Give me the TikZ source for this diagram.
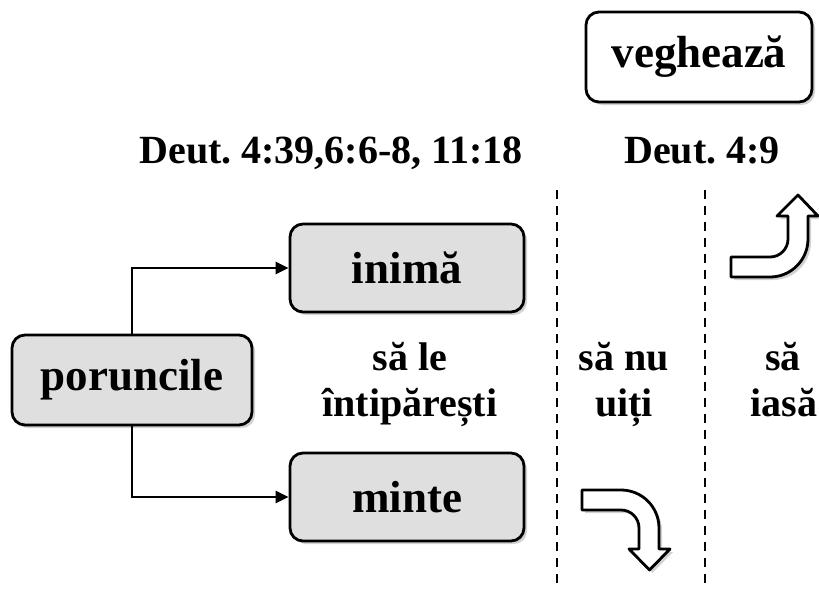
\documentclass[tikz,border=0pt]{standalone}
\usepackage{fontspec}
\setmainfont{Liberation Serif}
\usetikzlibrary{shadows,arrows.meta}
\frenchspacing
\tikzset{
  boxnode/.style={draw=black, line width=2.8pt, rounded corners=13pt, fill=#1,
    minimum width=234pt, minimum height=88pt, inner sep=0pt,
    font=\fontsize{45}{50}\selectfont\bfseries,
    drop shadow={opacity=0.35, shadow xshift=3pt, shadow yshift=-3pt}},
  lbl/.style={font=\fontsize{40}{46}\selectfont\bfseries, inner sep=0pt, anchor=base},
  sep/.style={line width=2.8pt, dash pattern=on 9pt off 7pt},
  conn/.style={line width=2.6pt, -{Triangle[length=13pt,width=12pt]}},
  bent/.style={draw=black, line width=2.8pt, fill=white, line join=round,
    drop shadow={opacity=0.35, shadow xshift=3pt, shadow yshift=-3pt}}
}
\begin{document}
\begin{tikzpicture}[x=1pt,y=-1pt]
\useasboundingbox (0,0) rectangle (819,589);
\fill[white] (0,0) rectangle (819,589);
% boxes
\node[boxnode=white, minimum width=226pt, minimum height=90pt] (veg) at (699,57) {veghează};
\node[boxnode=gray!25, minimum width=240pt, minimum height=90pt] (por) at (132,380) {poruncile};
\node[boxnode=gray!25] (inima) at (407,268) {inimă};
\node[boxnode=gray!25] (minte) at (407,497) {minte};
% headers
\node[lbl] (d1) at (331,163) {Deut. 4:39,6:6-8, 11:18};
\node[lbl] (d2) at (702,163) {Deut. 4:9};
% middle texts
\node[lbl] (t1a) at (410,370) {să le};
\node[lbl] (t1b) at (410,416) {întipărești};
\node[lbl] (t2a) at (624,370) {să nu};
\node[lbl] (t2b) at (624,416) {uiți};
\node[lbl] (t3a) at (783,370) {să};
\node[lbl] (t3b) at (784,416) {iasă};
% separators
\coordinate (s1t) at (557,190); \coordinate (s1b) at (557,589);
\coordinate (s2t) at (705,190); \coordinate (s2b) at (705,589);
\draw[sep] (s1t) -- (s1b);
\draw[sep] (s2t) -- (s2b);
% connectors
\draw[conn] (por.north) |- (inima.west);
\draw[conn] (por.south) |- (minte.west);
% bent arrows
\draw[bent] (731,257) -- (770,257) arc[start angle=90,end angle=0,radius=18]
  -- (788,216) -- (777,216) -- (798,195) -- (818,216) -- (808,216) -- (808,239)
  arc[start angle=0,end angle=90,radius=38] -- (731,277) -- cycle;
\draw[bent] (582,490) -- (621,490) arc[start angle=-90,end angle=0,radius=38]
  -- (659,549) -- (670,549) -- (649.5,570) -- (629,549) -- (639,549) -- (639,528)
  arc[start angle=0,end angle=-90,radius=18] -- (582,510) -- cycle;
\end{tikzpicture}
\end{document}
